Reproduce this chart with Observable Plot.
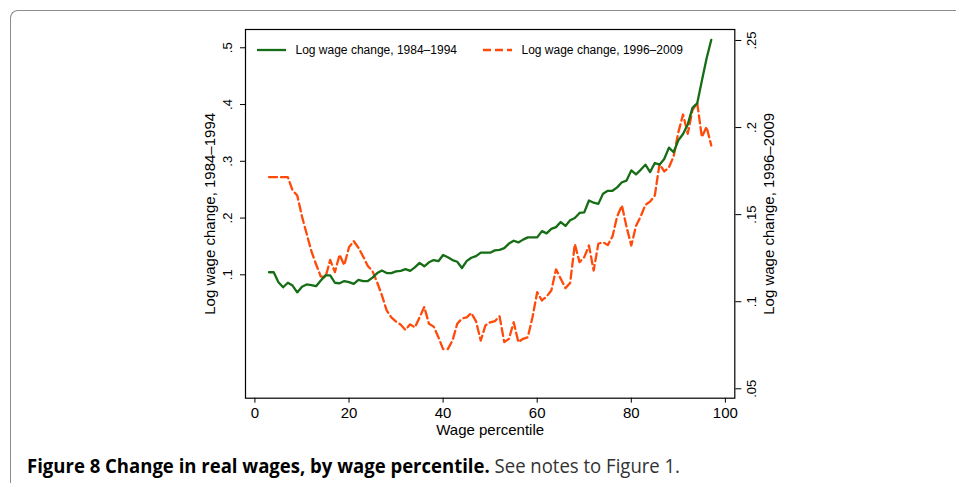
<!DOCTYPE html>
<html>
<head>
<meta charset="utf-8">
<script src="https://cdn.jsdelivr.net/npm/d3@7"></script>
<script src="https://cdn.jsdelivr.net/npm/@observablehq/plot@0.6"></script>
<style>
  html, body { margin: 0; padding: 0; background: #fff; width: 956px; height: 483px; overflow: hidden; }
  body { position: relative; font-family: "Liberation Sans", Arial, sans-serif; }
  #border { position: absolute; left: 10px; top: 10px; width: 1000px; height: 1000px;
            border-top: 1.5px solid #8c8c8c; border-left: 1.5px solid #8c8c8c; border-top-left-radius: 8px; }
  #chart { position: absolute; left: 0; top: 0; }
  .leg { position: absolute; font-size: 12px; line-height: 14px; color: #000; white-space: nowrap; }
  .sw { position: absolute; }
  #caption { position: absolute; left: 27px; top: 452px; font-family: "Open Sans", "Noto Sans", sans-serif;
             font-size: 20px; white-space: nowrap; transform-origin: 0 0; color: #222; }
  #caption b { font-weight: 700; color: #000; }
  #caption span { color: #333; }
</style>
</head>
<body>
<div id="border"></div>
<div id="chart"></div>
<div id="legend"></div>
<div id="caption"><b>Figure 8 Change in real wages, by wage percentile.</b> <span>See notes to Figure 1.</span></div>
<script>
// ---- data ----
const percentile = [3,4,5,6,7,8,9,10,11,12,13,14,15,16,17,18,19,20,21,22,23,24,25,26,27,28,29,30,31,32,33,34,35,36,37,38,39,40,41,42,43,44,45,46,47,48,49,50,51,52,53,54,55,56,57,58,59,60,61,62,63,64,65,66,67,68,69,70,71,72,73,74,75,76,77,78,79,80,81,82,83,84,85,86,87,88,89,90,91,92,93,94,95,96,97];

const change8494 = [0.1045,0.1045,0.087,0.078,0.086,0.081,0.069,0.079,0.083,0.082,
  0.080,0.090,0.099,0.099,0.086,0.085,0.089,0.087,0.084,0.091,
  0.089,0.089,0.095,0.103,0.1075,0.103,0.103,0.106,0.107,0.110,
  0.107,0.113,0.121,0.115,0.122,0.126,0.124,0.135,0.131,0.126,
  0.123,0.112,0.124,0.130,0.133,0.139,0.139,0.139,0.143,0.144,
  0.147,0.155,0.160,0.157,0.162,0.166,0.166,0.166,0.177,0.173,
  0.181,0.184,0.193,0.186,0.196,0.200,0.209,0.210,0.231,0.227,
  0.225,0.243,0.248,0.248,0.254,0.263,0.266,0.284,0.277,0.285,
  0.294,0.281,0.297,0.294,0.304,0.324,0.316,0.337,0.348,0.365,
  0.394,0.402,0.442,0.481,0.514];

const change9609 = [0.1715,0.1715,0.1715,0.1715,0.1715,0.164,0.161,0.149,0.139,0.129,
  0.1215,0.1145,0.114,0.124,0.117,0.127,0.121,0.1313,0.1348,0.131,
  0.126,0.1205,0.1175,0.111,0.1036,0.095,0.091,0.0886,0.0868,0.0838,
  0.087,0.0852,0.091,0.097,0.0873,0.0857,0.0796,0.0728,0.0728,0.0777,
  0.0873,0.0903,0.091,0.0935,0.0887,0.0777,0.0864,0.0882,0.0888,0.0916,
  0.0768,0.0787,0.0882,0.0768,0.0787,0.0796,0.0911,0.1055,0.1007,0.103,
  0.1064,0.1186,0.1132,0.1078,0.1107,0.1331,0.1227,0.1256,0.1323,0.1179,
  0.1333,0.1342,0.1325,0.1375,0.149,0.1553,0.1428,0.1323,0.1435,0.149,
  0.1556,0.1575,0.161,0.1791,0.1748,0.1771,0.1835,0.1973,0.2075,0.1964,
  0.210,0.2143,0.1945,0.2004,0.1897];

const xTicks = [0, 20, 40, 60, 80, 100];
const leftTicks = [0.1, 0.2, 0.3, 0.4, 0.5];
const leftTickLabels = [".1", ".2", ".3", ".4", ".5"];
const rightTicks = [0.05, 0.1, 0.15, 0.2, 0.25];
const rightTickLabels = [".05", ".1", ".15", ".2", ".25"];

const seriesNames = ["Log wage change, 1984\u20131994", "Log wage change, 1996\u20132009"];
const seriesColors = ["#156d15", "#ff4a0a"];
const xTitle = "Wage percentile";
const leftTitle = "Log wage change, 1984\u20131994";
const rightTitle = "Log wage change, 1996\u20132009";

// ---- scales ----
const leftDomain = [-0.1174, 0.5322];
const rightDomain = [0.0446, 0.2563];
// right-axis values expressed in left-axis units (shared pixel range)
const rightToLeft = d3.scaleLinear().domain(rightDomain).range(leftDomain);

const rows = percentile.map((p, i) => ({p, a: change8494[i], b: change9609[i]}));

const W = 956, H = 445;
const mL = 245, mR = 221.7, mT = 29, mB = 47.3;

const chart = Plot.plot({
  width: W, height: H,
  marginLeft: mL, marginRight: mR, marginTop: mT, marginBottom: mB,
  x: {domain: [-2, 102]},
  y: {domain: leftDomain},
  style: {fontFamily: "'Liberation Sans', Arial, sans-serif", background: "transparent", color: "#000"},
  marks: [
    Plot.axisX(xTicks, {anchor: "bottom", tickSize: 5, tickPadding: 4, fontSize: 15, label: null, stroke: "#000"}),
    Plot.axisY(leftTicks, {anchor: "left", tickSize: 5, tickFormat: () => "", label: null}),
    Plot.axisY(rightTicks.map(rightToLeft), {anchor: "right", tickSize: 6, tickFormat: () => "", label: null}),
    Plot.text(leftTicks, {y: d => d, text: (d, i) => leftTickLabels[i], frameAnchor: "left", rotate: -90,
      textAnchor: "middle", lineAnchor: "bottom", dx: -14, fontSize: 13, fill: "#000"}),
    Plot.text(rightTicks, {y: d => rightToLeft(d), text: (d, i) => rightTickLabels[i], frameAnchor: "right", rotate: -90,
      textAnchor: "middle", lineAnchor: "top", dx: 12, fontSize: 13, fill: "#000"}),
    Plot.text([leftTitle], {frameAnchor: "left", rotate: -90, textAnchor: "middle", lineAnchor: "middle", dx: -35, fontSize: 15, fill: "#000"}),
    Plot.text([rightTitle], {frameAnchor: "right", rotate: -90, textAnchor: "middle", lineAnchor: "middle", dx: 34, fontSize: 15, fill: "#000"}),
    Plot.text([xTitle], {frameAnchor: "bottom", textAnchor: "middle", lineAnchor: "middle", dy: 32, fontSize: 15, fill: "#000"}),
    Plot.line(rows, {x: "p", y: d => rightToLeft(d.b), stroke: seriesColors[1], strokeWidth: 2.3, strokeDasharray: "8,4", strokeLinejoin: "round"}),
    Plot.line(rows, {x: "p", y: "a", stroke: seriesColors[0], strokeWidth: 2.3, strokeLinejoin: "round"}),
    Plot.frame({stroke: "#000", strokeWidth: 1.2})
  ]
});
document.getElementById("chart").appendChild(chart);

// ---- legend (inside plot, top) ----
const legend = document.getElementById("legend");
const legendItems = [
  {name: seriesNames[0], color: seriesColors[0], dash: null, sx: 257, tx: 295.5},
  {name: seriesNames[1], color: seriesColors[1], dash: "8,4", sx: 483, tx: 521.5}
];
legendItems.forEach(it => {
  const sw = document.createElementNS("http://www.w3.org/2000/svg", "svg");
  sw.setAttribute("class", "sw");
  sw.setAttribute("width", 29); sw.setAttribute("height", 6);
  sw.style.left = it.sx + "px"; sw.style.top = "47px";
  const ln = document.createElementNS("http://www.w3.org/2000/svg", "line");
  ln.setAttribute("x1", 0); ln.setAttribute("x2", 29); ln.setAttribute("y1", 3); ln.setAttribute("y2", 3);
  ln.setAttribute("stroke", it.color); ln.setAttribute("stroke-width", 2.3);
  if (it.dash) ln.setAttribute("stroke-dasharray", it.dash);
  sw.appendChild(ln);
  legend.appendChild(sw);
  const t = document.createElement("div");
  t.className = "leg"; t.textContent = it.name;
  t.style.left = it.tx + "px"; t.style.top = "43px";
  legend.appendChild(t);
});

// ---- caption: fit to reference width ----
const cap = document.getElementById("caption");
const cw = cap.getBoundingClientRect().width;
cap.style.transform = `scaleX(${653 / cw})`;
</script>
</body>
</html>
